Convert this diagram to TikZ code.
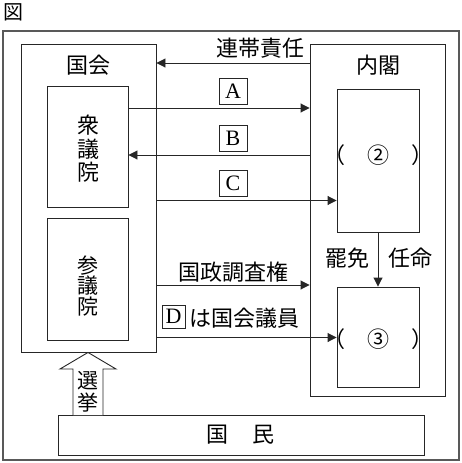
\documentclass[tikz,border=0pt]{standalone}
\usepackage{fontspec}
\setmainfont{Liberation Serif}
\newfontfamily\jp{Noto Sans CJK JP}
\usetikzlibrary{arrows.meta}
\begin{document}
\begin{tikzpicture}[x=1pt,y=-1pt,
  ln/.style={draw=black!85, line width=0.9pt},
  box/.style={ln, rectangle, inner sep=0pt},
  arr/.style={ln, -{Triangle[length=9pt,width=9pt]}},
  jt/.style={font=\jp\fontsize{22}{23.5}\selectfont, inner sep=0pt, align=center},
  lbox/.style={ln, font=\fontsize{22}{22}\selectfont, inner sep=0pt, minimum width=28pt, minimum height=26pt},
]
\useasboundingbox (0,0) rectangle (462,463);
% title
\node[font=\jp\fontsize{20}{20}\selectfont, inner sep=0pt] (zu) at (13,12.5) {図};
% frames
\node[draw=black!65, line width=1.6pt, minimum width=456pt, minimum height=429pt, inner sep=0pt] (frame) at (231,245.5) {};
\node[box, minimum width=135pt, minimum height=308pt] (kokkai) at (88.5,198) {};
\node[box, minimum width=81pt, minimum height=121pt] (shu) at (87.5,146.5) {};
\node[box, minimum width=81pt, minimum height=122pt] (san) at (87.5,279) {};
\node[box, minimum width=135pt, minimum height=352pt] (naikaku) at (377.5,220) {};
\node[box, minimum width=82pt, minimum height=143pt] (p2) at (378,160.5) {};
\node[box, minimum width=82pt, minimum height=100pt] (p3) at (378,337) {};
\node[box, minimum width=366pt, minimum height=40pt] (kokumin) at (241,435) {};
% texts in boxes
\node[jt] (tkokkai) at (88,65.5) {国会};
\node[jt] (tnaikaku) at (378,65.5) {内閣};
\node[jt] (tshu) at (88,149) {衆\\議\\院};
\node[jt, font=\jp\fontsize{21}{20.5}\selectfont] (tsan) at (88,286) {参\\議\\院};
\node[jt] (t2) at (378,155) {（　②　）};
\node[jt] (t3) at (378,339) {（　③　）};
\node[jt] (tkokumin) at (240.5,435) {国\hspace{25pt}民};
% election arrow
\draw[ln, fill=white] (73,415) -- (73,369) -- (60,369) -- (kokkai.south -| 88,0) -- (116,369) -- (103,369) -- (103,415);
\node[jt, font=\jp\fontsize{21}{22}\selectfont] (tsenkyo) at (88,392) {選\\挙};
% connectors
\draw[arr] (naikaku.west |- 0,63) -- (kokkai.east |- 0,63);
\draw[arr] (shu.east |- 0,108) -- (naikaku.west |- 0,108);
\draw[arr] (naikaku.west |- 0,155) -- (shu.east |- 0,155);
\draw[arr] (kokkai.east |- 0,200.5) -- (p2.west |- 0,200.5);
\draw[arr] (kokkai.east |- 0,285) -- (naikaku.west |- 0,285);
\draw[arr] (kokkai.east |- 0,337.5) -- (p3.west |- 0,337.5);
\draw[arr] (p2.south) -- (p3.north);
% labels
\node[jt] (lrentai) at (260,48) {連帯責任};
\node[lbox] (lA) at (233,91.5) {A};
\node[lbox] (lB) at (233,138) {B};
\node[lbox] (lC) at (233,183) {C};
\node[jt] (lchosa) at (233,272) {国政調査権};
\node[lbox, minimum width=23pt, minimum height=23pt] (lD) at (173.5,316.5) {D};
\node[jt] (lgiin) at (244.5,318) {は国会議員};
\node[jt] (lhimen) at (347.5,258) {罷免};
\node[jt] (lnin) at (410.5,258) {任命};
\end{tikzpicture}
\end{document}
